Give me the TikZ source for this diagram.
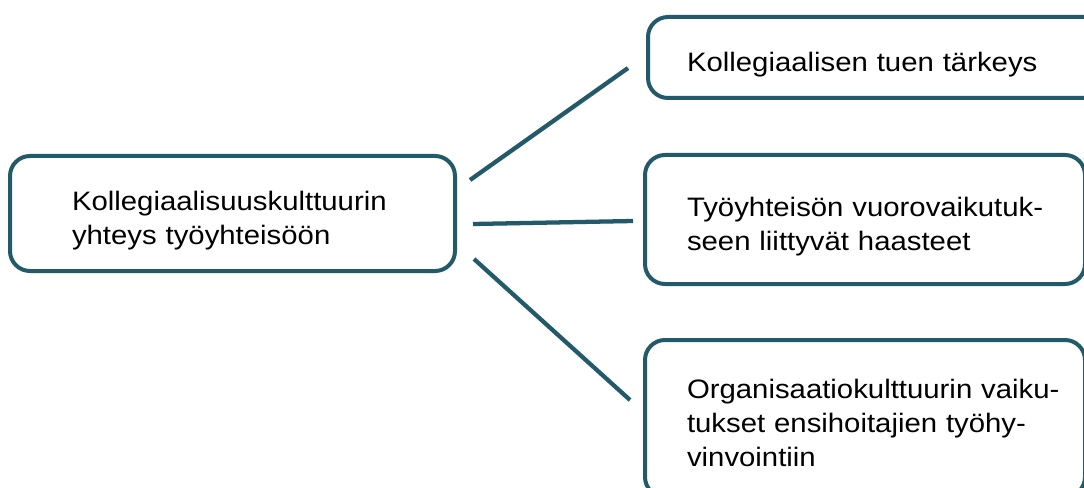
\documentclass[tikz,border=0pt]{standalone}
\usepackage{fontspec}
\setmainfont{Liberation Sans}[FakeStretch=1.1]
\usepackage{tikz}
\usetikzlibrary{calc}

\definecolor{boxteal}{RGB}{35,90,105}

\tikzset{
  themebox/.style={draw=boxteal, line width=3pt, rounded corners=15pt, fill=white,
    align=left, inner ysep=0pt, font=\fontsize{20pt}{25.5pt}\selectfont,
    execute at begin node={\rule{0pt}{27.75pt}},
    execute at end node={\rule[-6.75pt]{0pt}{6.75pt}}},
  link/.style={draw=boxteal, line width=3.2pt,
    preaction={draw=black!12, transform canvas={shift={(0.8pt,-1.4pt)}}}}
}

\begin{document}
\begin{tikzpicture}[x=0.75pt, y=-0.75pt]
  \useasboundingbox (0,0) rectangle (1084,488);

  % main theme
  \node[themebox, text width=240.75pt, inner xsep=46.5pt, minimum height=86.25pt]
    (kulttuuri) at (232.5,213.5) {Kollegiaalisuuskulttuurin\\yhteys työyhteisöön};

  % sub themes
  \node[themebox, text width=294pt, inner xsep=29.25pt, minimum height=60.75pt]
    (tuki) at (883,57.5) {Kollegiaalisen tuen tärkeys};
  \node[themebox, text width=267pt, inner xsep=31.5pt, minimum height=96.75pt]
    (haasteet) at (865,219.5) {\mbox{Työyhteisön vuorovaikutuk-}\\seen liittyvät haasteet};
  \node[themebox, text width=267pt, inner xsep=31.5pt, minimum height=117.75pt]
    (vaikutus) at (865,418.5) {\mbox{Organisaatiokulttuurin vaiku-}\\tukset ensihoitajien työhy-\\vinvointiin};

  % connector ends
  \coordinate (k1) at (470,180);
  \coordinate (k2) at (473,224);
  \coordinate (k3) at (474,259);
  \coordinate (t1) at (628,68);
  \coordinate (h1) at (633,221);
  \coordinate (v1) at (630,400);

  \draw[link] (k1) -- (t1);
  \draw[link] (k2) -- (h1);
  \draw[link] (k3) -- (v1);
\end{tikzpicture}
\end{document}
